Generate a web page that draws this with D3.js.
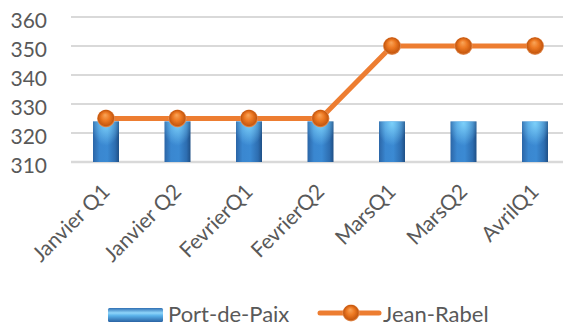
<!DOCTYPE html>
<html>
<head>
<meta charset="utf-8">
<script src="https://cdn.jsdelivr.net/npm/d3@7"></script>
<style>
  html, body { margin: 0; padding: 0; background: #fff; }
  svg { display: block; font-family: Lato, "Open Sans", sans-serif; }
</style>
</head>
<body>
<svg id="chart" width="563" height="327"></svg>
<script>
// Quarterly values for the two communes
const categories = ["Janvier Q1", "Janvier Q2", "FevrierQ1", "FevrierQ2", "MarsQ1", "MarsQ2", "AvrilQ1"];
const portDePaix = [324, 324, 324, 324, 324, 324, 324];
const jeanRabel = [325, 325, 325, 325, 350, 350, 350];
const yTicks = [310, 320, 330, 340, 350, 360];
const seriesNames = ["Port-de-Paix", "Jean-Rabel"];

const svg = d3.select("#chart");
const W = 563, H = 327;

const x = d3.scaleBand().domain(categories).range([70.25, 570.75]).padding(0);
const y = d3.scaleLinear().domain([310, 360]).range([162, 17]);

const textColor = "#595959";
const gridColor = "#d9d9d9";

// ---- gradients ----
const defs = svg.append("defs");
const barGrad = defs.append("linearGradient").attr("id", "barGrad")
  .attr("x1", "0").attr("x2", "1").attr("y1", "0").attr("y2", "0");
[["0%", "#2b65a6"], ["25%", "#3a87d0"], ["55%", "#3b8ad3"], ["85%", "#2d6db0"], ["100%", "#1f4f85"]]
  .forEach(([o, c]) => barGrad.append("stop").attr("offset", o).attr("stop-color", c));

const barTop = defs.append("radialGradient").attr("id", "barTop")
  .attr("cx", "0.5").attr("cy", "0").attr("r", "0.6").attr("fx", "0.5").attr("fy", "0.05");
barTop.append("stop").attr("offset", "0%").attr("stop-color", "#7fd3fb").attr("stop-opacity", 0.95);
barTop.append("stop").attr("offset", "100%").attr("stop-color", "#7fd3fb").attr("stop-opacity", 0);

const legGrad = defs.append("linearGradient").attr("id", "legGrad")
  .attr("x1", "0").attr("x2", "0").attr("y1", "0").attr("y2", "1");
[["0%", "#2f6fb3"], ["35%", "#8fd6fa"], ["55%", "#5ab2ea"], ["100%", "#2a63a3"]]
  .forEach(([o, c]) => legGrad.append("stop").attr("offset", o).attr("stop-color", c));

const dotGrad = defs.append("radialGradient").attr("id", "dotGrad")
  .attr("cx", "0.5").attr("cy", "0.5").attr("r", "0.5").attr("fx", "0.45").attr("fy", "0.3");
[["0%", "#f9a65a"], ["45%", "#ee7a24"], ["85%", "#c8590f"], ["100%", "#e79a66"]]
  .forEach(([o, c]) => dotGrad.append("stop").attr("offset", o).attr("stop-color", c));

const soft = defs.append("filter").attr("id", "soft");
soft.append("feGaussianBlur").attr("stdDeviation", 0.6);

// ---- gridlines ----
svg.append("g").selectAll("line").data(yTicks).join("line")
  .attr("x1", 71).attr("x2", W)
  .attr("y1", d => y(d)).attr("y2", d => y(d))
  .attr("stroke", gridColor)
  .attr("stroke-width", d => d === 310 ? 2.5 : 2);

// ---- y axis labels ----
svg.append("g").selectAll("text").data(yTicks).join("text")
  .attr("x", 47).attr("y", d => y(d) + 2)
  .attr("text-anchor", "end").attr("dominant-baseline", "central")
  .attr("font-size", 21).attr("fill", textColor)
  .text(d => d);

// ---- bars ----
const bw = 26;
const bars = svg.append("g");
bars.selectAll("rect.body").data(portDePaix).join("rect")
  .attr("class", "body")
  .attr("x", (d, i) => x(categories[i]) + x.bandwidth() / 2 - bw / 2)
  .attr("y", d => y(d))
  .attr("width", bw).attr("height", d => y(310) - y(d))
  .attr("fill", "url(#barGrad)");
bars.selectAll("rect.hl").data(portDePaix).join("rect")
  .attr("class", "hl")
  .attr("x", (d, i) => x(categories[i]) + x.bandwidth() / 2 - bw / 2)
  .attr("y", d => y(d))
  .attr("width", bw).attr("height", d => y(310) - y(d))
  .attr("fill", "url(#barTop)");

// ---- line ----
const cx = c => x(c) + x.bandwidth() / 2;
svg.append("path")
  .datum(jeanRabel)
  .attr("d", d3.line().x((d, i) => cx(categories[i])).y(d => y(d)))
  .attr("fill", "none").attr("stroke", "#ed7d31").attr("stroke-width", 5);

svg.append("g").selectAll("circle").data(jeanRabel).join("circle")
  .attr("cx", (d, i) => cx(categories[i])).attr("cy", d => y(d))
  .attr("r", 9).attr("fill", "url(#dotGrad)").attr("filter", "url(#soft)");

// ---- x axis labels ----
svg.append("g").selectAll("text").data(categories).join("text")
  .attr("transform", c => `translate(${cx(c) + 5},${193}) rotate(-45)`)
  .attr("text-anchor", "end")
  .attr("font-size", 21).attr("fill", textColor)
  .text(c => c);

// ---- legend ----
const leg = svg.append("g");
leg.append("rect").attr("x", 108).attr("y", 308).attr("width", 55).attr("height", 14)
  .attr("rx", 1.5).attr("fill", "url(#legGrad)");
leg.append("text").attr("x", 168).attr("y", 322)
  .attr("font-size", 22).attr("fill", textColor).text(seriesNames[0]);

leg.append("line").attr("x1", 320).attr("x2", 379).attr("y1", 313).attr("y2", 313)
  .attr("stroke", "#ed7d31").attr("stroke-width", 5).attr("stroke-linecap", "round");
leg.append("circle").attr("cx", 351).attr("cy", 313).attr("r", 8.5)
  .attr("fill", "url(#dotGrad)").attr("filter", "url(#soft)");
leg.append("text").attr("x", 383).attr("y", 322)
  .attr("font-size", 22).attr("fill", textColor).text(seriesNames[1]);
</script>
</body>
</html>
